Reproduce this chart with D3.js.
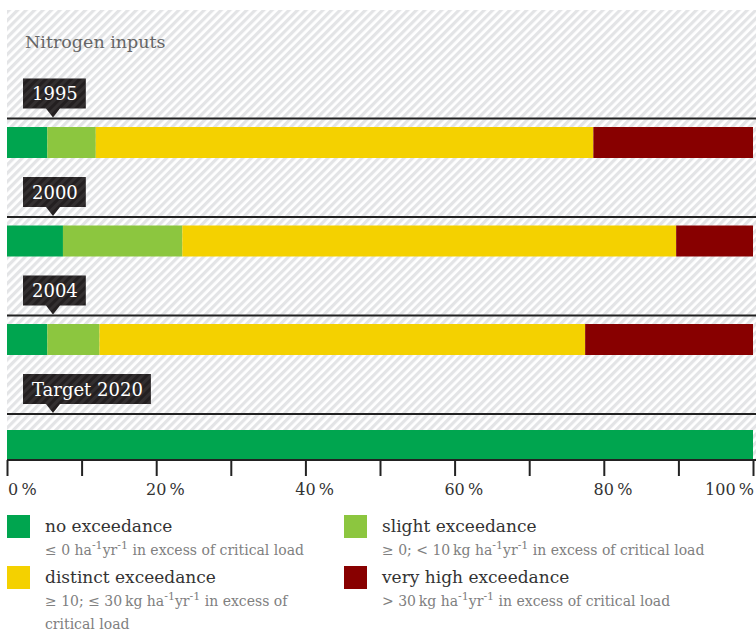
<!DOCTYPE html>
<html>
<head>
<meta charset="utf-8">
<script src="https://cdn.jsdelivr.net/npm/d3@7"></script>
<style>
  body { margin: 0; background: #fff; }
  svg { display: block; font-family: "DejaVu Serif", serif; }
</style>
</head>
<body>
<div id="chart"></div>
<script>
const years      = ["1995", "2000", "2004", "Target 2020"];
const noExc      = [5.4, 7.5, 5.4, 100];
const slightExc  = [6.5, 16.0, 7.0, 0];
const distExc    = [66.7, 66.2, 65.1, 0];
const veryHigh   = [21.4, 10.3, 22.5, 0];
const categories = ["no exceedance", "slight exceedance", "distinct exceedance", "very high exceedance"];
const catNotes   = [
  ["≤ 0 ha^-1^yr^-1^ in excess of critical load"],
  ["≥ 0; < 10\u2009kg ha^-1^yr^-1^ in excess of critical load"],
  ["≥ 10; ≤ 30\u2009kg ha^-1^yr^-1^ in excess of", "critical load"],
  ["> 30\u2009kg ha^-1^yr^-1^ in excess of critical load"]
];
const COLORS     = ["#00a54f", "#8cc63f", "#f4d100", "#880000"];
const tickVals   = d3.range(0, 101, 10);
const labelVals  = [0, 20, 40, 60, 80, 100];

const W = 756, H = 632;
const svg = d3.select("#chart").append("svg").attr("width", W).attr("height", H);

// hatch pattern for the background
const defs = svg.append("defs");
const pat = defs.append("pattern").attr("id", "hatch")
  .attr("patternUnits", "userSpaceOnUse").attr("width", 6).attr("height", 6)
  .attr("patternTransform", "rotate(45)");
pat.append("rect").attr("width", 6).attr("height", 6).attr("fill", "#fff");
pat.append("rect").attr("width", 3.2).attr("height", 6).attr("fill", "#e3e4e6");

const pat2 = defs.append("pattern").attr("id", "hatchDark")
  .attr("patternUnits", "userSpaceOnUse").attr("width", 6).attr("height", 6)
  .attr("patternTransform", "rotate(45)");
pat2.append("rect").attr("width", 3).attr("height", 6).attr("fill", "#fff").attr("opacity", 0.07);

svg.append("rect").attr("x", 7).attr("y", 10).attr("width", W - 7).attr("height", 450)
  .attr("fill", "url(#hatch)");

svg.append("text").attr("x", 25).attr("y", 48)
  .attr("font-size", 17.5).attr("fill", "#666").text("Nitrogen inputs");

const x = d3.scaleLinear().domain([0, 100]).range([7, 753]);
const lineY = d3.scalePoint().domain(years).range([118.5, 414]);

const rows = years.map((y, i) => ({ year: y, v0: noExc[i], v1: slightExc[i], v2: distExc[i], v3: veryHigh[i] }));
const stack = d3.stack().keys(["v0", "v1", "v2", "v3"])(rows);

const barTop = d => lineY(d.data.year) + (d.data.year.startsWith("Target") ? 16 : 8.5);

svg.append("g").selectAll("g").data(stack).join("g")
  .attr("fill", (s, i) => COLORS[i])
  .selectAll("rect").data(s => s.filter(d => d[1] > d[0])).join("rect")
  .attr("x", d => x(d[0]))
  .attr("width", d => x(d[1]) - x(d[0]))
  .attr("y", barTop)
  .attr("height", 31);

// separator lines
svg.append("g").selectAll("line").data(years).join("line")
  .attr("x1", 7).attr("x2", W)
  .attr("y1", d => lineY(d)).attr("y2", d => lineY(d))
  .attr("stroke", "#222").attr("stroke-width", 2);

// year tags
const tags = svg.append("g").selectAll("g").data(years).join("g")
  .attr("transform", d => `translate(23,${lineY(d) - 40})`);
tags.each(function (d) {
  const g = d3.select(this);
  const t = g.append("text").attr("x", 9).attr("y", 21.5)
    .attr("font-size", 18).attr("fill", "#fff").text(d);
  const w = t.node().getComputedTextLength() + 17;
  const shape = `M0,0H${w}V30H37L30,39L23,30H0Z`;
  g.insert("path", "text").attr("d", shape).attr("fill", "#231f20");
  g.insert("path", "text").attr("d", shape).attr("fill", "url(#hatchDark)");
});

// axis
const axis = svg.append("g").attr("transform", "translate(0,460)")
  .call(d3.axisBottom(x).tickValues(tickVals).tickSize(16).tickFormat(""));
axis.select(".domain").attr("stroke", "#222").attr("stroke-width", 2).attr("d", `M${x(0)},0H${W}`);
axis.selectAll(".tick line").attr("stroke", "#222").attr("stroke-width", 2);

const labels = svg.append("g").selectAll("text").data(labelVals).join("text")
  .attr("y", 495).attr("font-size", 16).attr("fill", "#333");
labels.append("tspan").attr("class", "num").text(d => d);
labels.append("tspan").text("\u2009%");
labels.each(function (d) {
  const el = d3.select(this);
  const numW = el.select(".num").node().getComputedTextLength();
  const fullW = this.getComputedTextLength();
  let lx = x(d) - numW / 2;
  if (d === 0) lx = x(d) + 1;
  if (d === 100) lx = x(d) + 1 - fullW;
  el.attr("x", lx);
});

// legend
const legend = svg.append("g").selectAll("g").data(categories).join("g")
  .attr("transform", (d, i) => `translate(${i % 2 ? 344 : 7},${i < 2 ? 515 : 566})`);
legend.append("rect").attr("width", 23).attr("height", 23).attr("fill", (d, i) => COLORS[i]);
legend.append("text").attr("x", 38).attr("y", 17).attr("font-size", 17)
  .attr("fill", "#333").text(d => d);
legend.each(function (d, i) {
  const g = d3.select(this);
  catNotes[i].forEach((line, j) => {
    const t = g.append("text").attr("x", 38).attr("y", 40 + j * 23)
      .attr("font-size", 14).attr("fill", "#808080");
    let back = 0;
    line.split("^").forEach((part, k) => {
      if (!part) return;
      if (k % 2) {
        t.append("tspan").attr("font-size", 11).attr("dy", -6 + back).text(part);
        back = 6;
      } else {
        t.append("tspan").attr("dy", back).text(part);
        back = 0;
      }
    });
  });
});
</script>
</body>
</html>
